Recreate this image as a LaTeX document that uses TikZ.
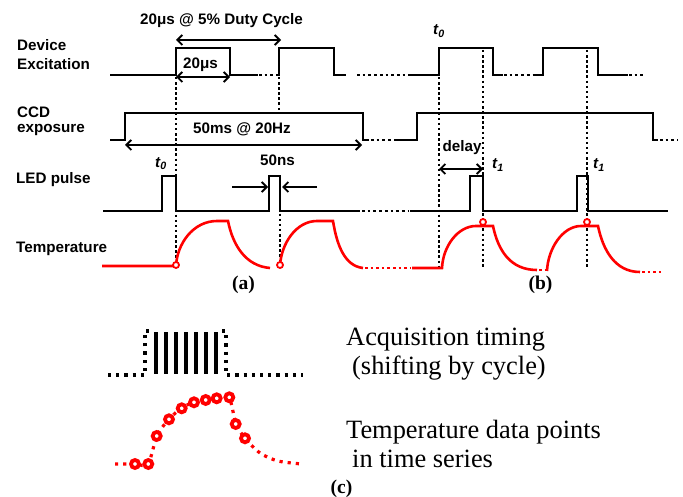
\documentclass[tikz,border=0pt]{standalone}
\usepackage{fontspec}
\setmainfont{Liberation Serif}
\setsansfont{Liberation Sans}
\usetikzlibrary{arrows.meta}
\begin{document}
\begin{tikzpicture}[x=1pt,y=-1pt,
  wave/.style={line width=2.7pt,line join=miter,line cap=butt},
  bdots/.style={line width=2.7pt,dash pattern=on 2.7pt off 3pt},
  vdots/.style={line width=2.5pt,dash pattern=on 2.5pt off 2.6pt},
  temp/.style={red,line width=2.6pt},
  rdots/.style={red,line width=2.6pt,dash pattern=on 2.6pt off 3pt},
  ring/.style={red,line width=1.8pt,fill=white},
  dimarr/.style={line width=1.9pt,{Straight Barb[length=5pt,width=10pt]}-{Straight Barb[length=5pt,width=10pt]}},
  onearr/.style={line width=1.9pt,-{Straight Barb[length=5pt,width=10pt]}},
  lab/.style={font=\sffamily\bfseries\fontsize{15.2}{17}\selectfont,anchor=base west,inner sep=0pt},
  tlab/.style={font=\sffamily\bfseries\itshape\fontsize{15.2}{17}\selectfont,anchor=base west,inner sep=0pt},
  serif/.style={font=\fontsize{26.4}{30}\selectfont,anchor=base west,inner sep=0pt},
  panel/.style={font=\bfseries\fontsize{19.5}{22}\selectfont,anchor=base,inner sep=0pt},
  cdots/.style={line width=3.2pt,dash pattern=on 3.2pt off 5pt},
  cring/.style={red,line width=3.8pt,fill=white}
]
\useasboundingbox (0,0) rectangle (683,497);

% ---------- row labels ----------
\node[lab] (l1) at (17,50.2) {Device};
\node[lab] (l2) at (17,69.2) {Excitation};
\node[lab] (l3) at (17,117.6) {CCD};
\node[lab] (l4) at (17,133) {exposure};
\node[lab] (l5) at (16,184) {LED pulse};
\node[lab] (l6) at (16,252.6) {Temperature};

% ---------- device excitation ----------
\draw[wave] (110,75) -- (176,75) -- (176,48) -- (230,48) -- (230,75) -- (258,75);
\draw[bdots] (259,75) -- (277,75);
\draw[wave] (277,75) -- (279,75) -- (279,48) -- (334,48) -- (334,75) -- (346,75);
\draw[bdots] (357,75) -- (410,75);
\draw[wave] (410,75) -- (439,75) -- (439,48) -- (493,48) -- (493,75) -- (503,75);
\draw[bdots] (504,75) -- (535,75);
\draw[wave] (535,75) -- (543,75) -- (543,48) -- (598,48) -- (598,75) -- (628,75);
\draw[bdots] (629,75) -- (646,75);

% ---------- CCD exposure ----------
\draw[wave] (110,140) -- (125,140) -- (125,113) -- (363,113) -- (363,140) -- (369,140);
\draw[bdots] (371,140) -- (396,140);
\draw[wave] (396,140) -- (417,140) -- (417,113) -- (653,113) -- (653,140) -- (658,140);
\draw[bdots] (660,140) -- (678,140);

% ---------- LED pulse ----------
\draw[wave] (103,211) -- (162,211) -- (162,176) -- (176,176) -- (176,211) -- (269,211) -- (269,176) -- (280,176) -- (280,211) -- (360,211);
\draw[bdots] (362,211) -- (409,211);
\draw[wave] (410,211) -- (470,211) -- (470,176) -- (483,176) -- (483,211) -- (577,211) -- (577,176) -- (588,176) -- (588,211) -- (668,211);

% ---------- vertical dotted markers ----------
\draw[vdots] (176,77) -- (176,262);
\draw[vdots] (279,77) -- (279,112);
\draw[vdots] (280,178) -- (280,262);
\draw[vdots] (439,77) -- (439,267);
\draw[vdots] (483,50) -- (483,267);
\draw[vdots] (587,50) -- (587,267);

% ---------- temperature ----------
\draw[temp] (102,266) -- (176,266) .. controls (177,244) and (193,221) .. (217,221) -- (228,221)
  .. controls (233,246) and (246,266) .. (270,268);
\draw[temp] (280,266) .. controls (281,244) and (296,221) .. (317,221) -- (333,221)
  .. controls (337,246) and (345,266) .. (363,268);
\draw[rdots] (365,268) -- (411,268);
\draw[temp] (412,268) -- (442,268) .. controls (443,246) and (458,226) .. (476,226) -- (493,226)
  .. controls (498,250) and (510,270) .. (537,270);
\draw[rdots] (539,270) -- (545,270);
\draw[temp] (547,271) .. controls (548,248) and (563,226) .. (581,226) -- (598,226)
  .. controls (603,250) and (615,272) .. (640,272);
\draw[rdots] (642,272) -- (664,272);
\draw[ring] (176,265) circle (3);
\draw[ring] (280,265) circle (3);
\draw[ring] (483,222) circle (3);
\draw[ring] (587,222) circle (3);

% ---------- dimension arrows and labels ----------
\node[lab] (dc) at (140,24.5) {20μs @ 5\% Duty Cycle};
\coordinate (a1) at (176,40); \coordinate (a2) at (281,40);
\draw[dimarr] (a1) -- (a2);
\node[lab] (w20) at (183,69) {20μs};
\coordinate (b1) at (176,77); \coordinate (b2) at (230,77);
\draw[dimarr] (b1) -- (b2);
\node[lab] (ms) at (193,134) {50ms @ 20Hz};
\coordinate (c1) at (125,145); \coordinate (c2) at (362,145);
\draw[dimarr] (c1) -- (c2);
\node[lab] (ns) at (260,166) {50ns};
\coordinate (n1) at (232,187); \coordinate (n2) at (268,187);
\coordinate (n3) at (317,187); \coordinate (n4) at (282,187);
\draw[onearr] (n1) -- (n2);
\draw[onearr] (n3) -- (n4);
\node[lab,fill=white,inner sep=0.5pt] (dl) at (442,152) {delay};
\coordinate (d1) at (439,169); \coordinate (d2) at (483,169);
\draw[dimarr] (d1) -- (d2);
\node[tlab] (ta) at (155,167.5) {t\textsubscript{0}};
\node[tlab] (tb) at (433,35) {t\textsubscript{0}};
\node[tlab] (tc) at (492,169) {t\textsubscript{1}};
\node[tlab] (td) at (593,169) {t\textsubscript{1}};

\node[panel] (pa) at (243.5,290) {(a)};
\node[panel] (pb) at (540.5,290) {(b)};

% ---------- panel (c) ----------
\draw[cdots] (108,375) -- (145,375) -- (145,331) -- (149,331);
\draw[cdots] (222,331) -- (226,331) -- (226,375) -- (303,375);
\foreach \bx in {156,166,176,186,196,206,216} {
  \draw[line width=3.4pt] (\bx,332) -- (\bx,374);
}
\draw[rdots,line width=3.2pt,dash pattern=on 3.2pt off 5pt] plot[smooth] coordinates {(115,464) (135,464) (148,464) (157,436) (169,419) (182,408) (194,402) (206,400) (217,398) (229,397) (236,424) (245,438) (260,453) (278,461) (302,464)};
\foreach \px/\py in {135/464, 148.3/464, 156.7/436, 169/419.3, 181.7/408.3, 194/402.3, 205.7/400, 216.7/398.3, 229.3/397.3, 235.7/424, 245/438.3} {
  \draw[cring] (\px,\py) circle (4);
}
\node[serif] (s1) at (346,345) {Acquisition timing};
\node[serif] (s2) at (352,374) {(shifting by cycle)};
\node[serif] (s3) at (346,438) {Temperature data points};
\node[serif] (s4) at (352,467) {in time series};
\node[panel] (pc) at (341.5,493) {(c)};
\end{tikzpicture}
\end{document}
